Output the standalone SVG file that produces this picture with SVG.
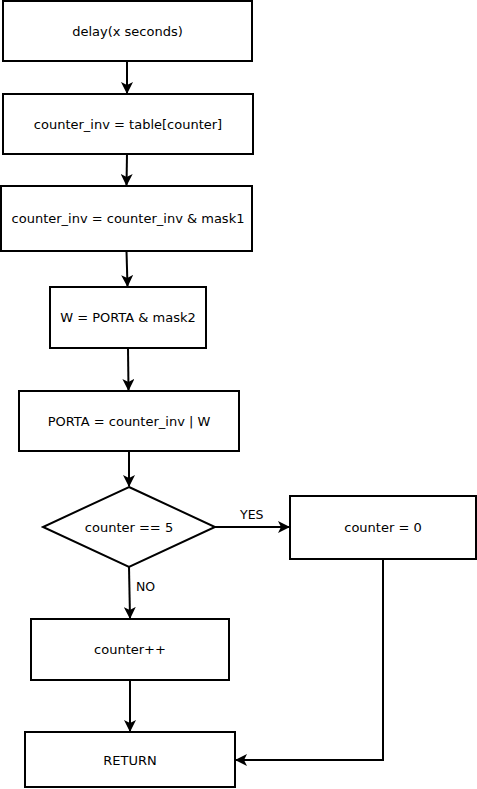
<svg xmlns="http://www.w3.org/2000/svg" width="477" height="789" viewBox="0 0 477 789">
<defs>
<style>
.box{fill:#fff;stroke:#000;stroke-width:2}
.t{font-family:"DejaVu Sans",sans-serif;font-size:13px;fill:#000;text-anchor:middle;dominant-baseline:central}
.lbl{font-family:"DejaVu Sans",sans-serif;font-size:12.5px;fill:#000}
.c{fill:none;stroke:#000;stroke-width:2}
</style>
<marker id="arr" viewBox="0 0 12 12" refX="11" refY="6" markerWidth="12" markerHeight="12" markerUnits="userSpaceOnUse" orient="auto">
<path d="M0,0 L12,6 L0,12 L3,6 Z" fill="#000"/>
</marker>
</defs>
<rect width="477" height="789" fill="#fff"/>
<g id="connectors">
<path class="c" d="M127,61 L127,93" marker-end="url(#arr)"/>
<path class="c" d="M127,154 L126.5,185" marker-end="url(#arr)"/>
<path class="c" d="M126.5,251 L127.5,286" marker-end="url(#arr)"/>
<path class="c" d="M128,348 L128.5,390" marker-end="url(#arr)"/>
<path class="c" d="M129,451 L129,486" marker-end="url(#arr)"/>
<path class="c" d="M214,527 L289,527" marker-end="url(#arr)"/>
<path class="c" d="M129,567 L130,618" marker-end="url(#arr)"/>
<path class="c" d="M130,680 L130,731" marker-end="url(#arr)"/>
<path class="c" d="M383,559 L383,760 L236,760" marker-end="url(#arr)"/>
<text class="lbl" x="240" y="519">YES</text>
<text class="lbl" x="136" y="591">NO</text>
</g>
<g id="n1"><rect class="box" x="3" y="1" width="249" height="60"/><text class="t" x="127.5" y="31">delay(x seconds)</text></g>
<g id="n2"><rect class="box" x="3" y="94" width="250" height="60"/><text class="t" x="128" y="124">counter_inv = table[counter]</text></g>
<g id="n3"><rect class="box" x="1" y="186" width="251" height="65"/><text class="t" x="128" y="218.5">counter_inv = counter_inv &amp; mask1</text></g>
<g id="n4"><rect class="box" x="50" y="287" width="156" height="61"/><text class="t" x="128" y="317.5">W = PORTA &amp; mask2</text></g>
<g id="n5"><rect class="box" x="19" y="391" width="220" height="60"/><text class="t" x="129" y="421">PORTA = counter_inv | W</text></g>
<g id="n6"><path class="box" d="M129,487 L215,527 L129,567 L43,527 Z"/><text class="t" x="129" y="527">counter == 5</text></g>
<g id="n7"><rect class="box" x="290" y="496" width="186" height="63"/><text class="t" x="383" y="527.5">counter = 0</text></g>
<g id="n8"><rect class="box" x="31" y="619" width="198" height="61"/><text class="t" x="130" y="649">counter++</text></g>
<g id="n9"><rect class="box" x="25" y="732" width="210" height="55"/><text class="t" x="130" y="760">RETURN</text></g>
</svg>
